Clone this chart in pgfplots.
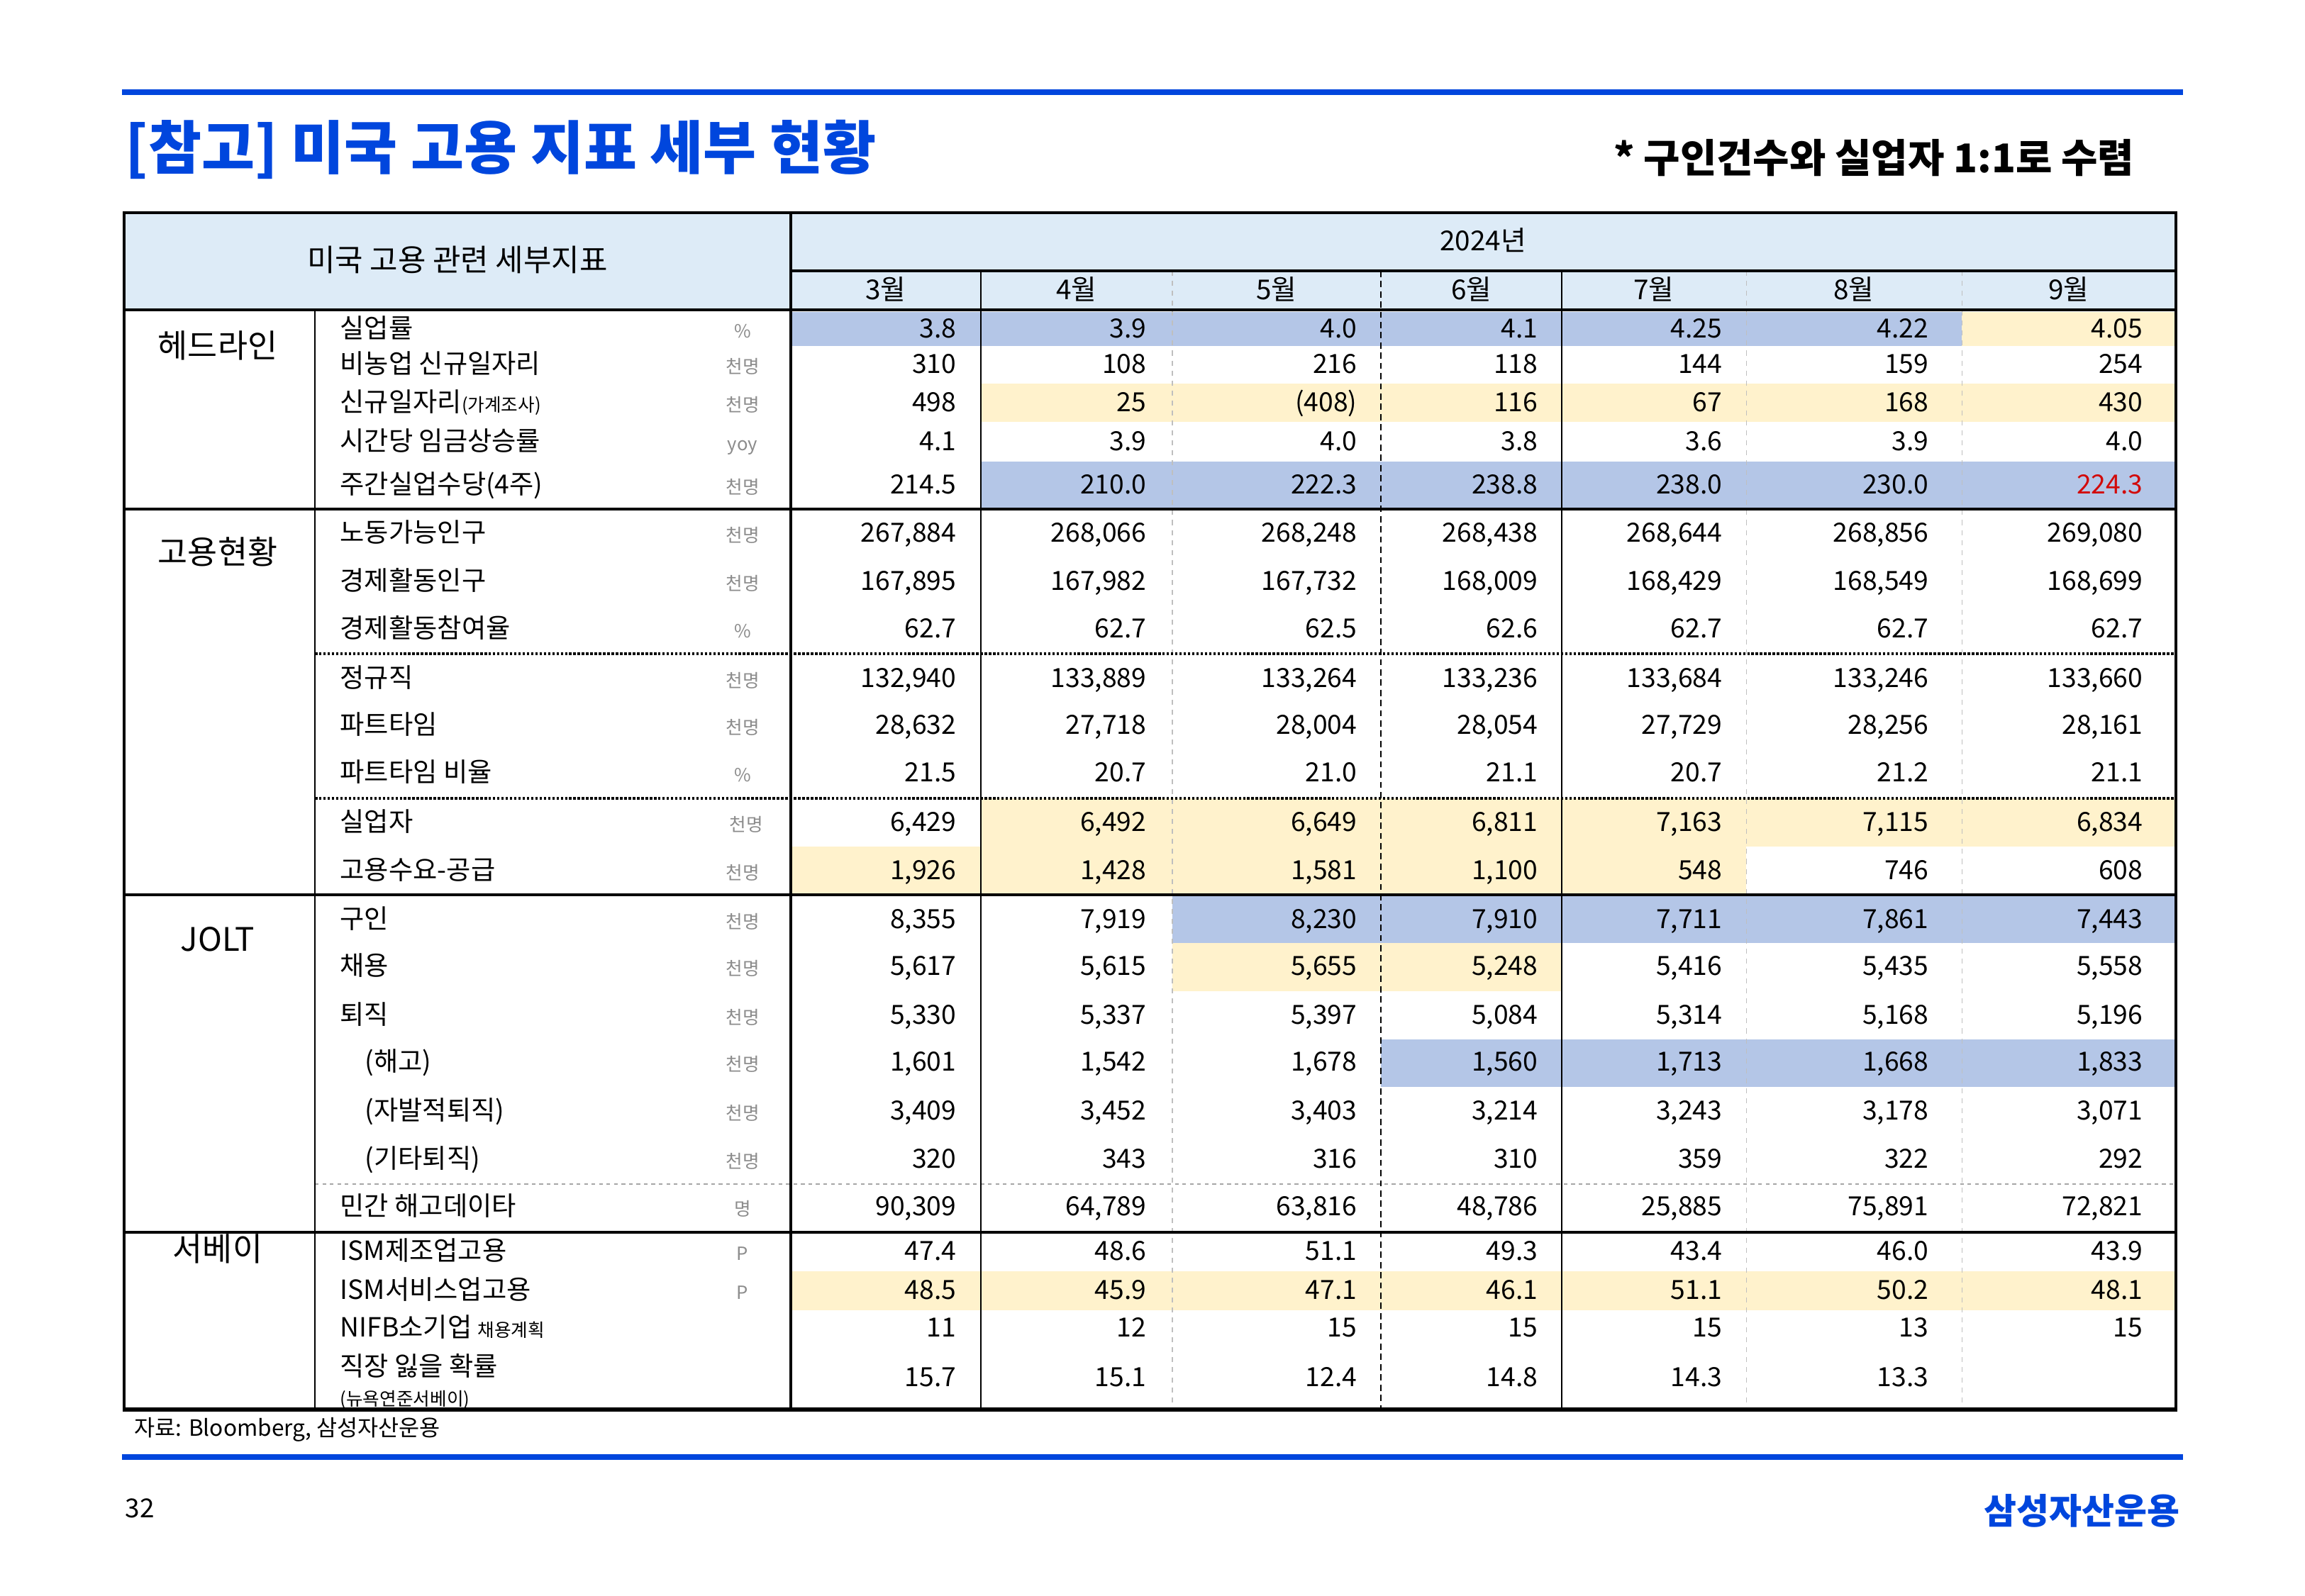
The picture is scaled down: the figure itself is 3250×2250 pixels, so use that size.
\documentclass[border=0pt]{standalone}
\usepackage{fontspec}
\setmainfont{Noto Sans CJK KR}
\usepackage{xcolor}
\definecolor{brand}{RGB}{0,70,221}
\definecolor{hdr}{RGB}{221,235,247}
\definecolor{hiblue}{RGB}{180,198,231}
\definecolor{hiyel}{RGB}{255,242,204}
\definecolor{unitgray}{RGB}{140,140,140}
\definecolor{hot}{RGB}{210,10,10}
\usepackage{pgfplots}
\usepackage{pgfplotstable}
\pgfplotsset{compat=1.18}

\newcommand{\fbody}{\fontsize{10.6pt}{12pt}\selectfont}
\newcommand{\fcat}{\fontsize{13pt}{14pt}\selectfont}
\newcommand{\fsmall}{\fontsize{7.3pt}{8pt}\selectfont}

% one row per table line: y centre (px from top), then the months 3..9
\pgfplotstableread{
y m3 m4 m5 m6 m7 m8 m9
464 3.8 3.9 4.0 4.1 4.25 4.22 4.05
514 310 108 216 118 144 159 254
568 498 25 (408) 116 67 168 430
623 4.1 3.9 4.0 3.8 3.6 3.9 4.0
684 214.5 210.0 222.3 238.8 238.0 230.0 {}
752 267,884 268,066 268,248 268,438 268,644 268,856 269,080
820 167,895 167,982 167,732 168,009 168,429 168,549 168,699
887 62.7 62.7 62.5 62.6 62.7 62.7 62.7
957 132,940 133,889 133,264 133,236 133,684 133,246 133,660
1023 28,632 27,718 28,004 28,054 27,729 28,256 28,161
1090 21.5 20.7 21.0 21.1 20.7 21.2 21.1
1160 6,429 6,492 6,649 6,811 7,163 7,115 6,834
1228 1,926 1,428 1,581 1,100 548 746 608
1297 8,355 7,919 8,230 7,910 7,711 7,861 7,443
1363 5,617 5,615 5,655 5,248 5,416 5,435 5,558
1432 5,330 5,337 5,397 5,084 5,314 5,168 5,196
1498 1,601 1,542 1,678 1,560 1,713 1,668 1,833
1567 3,409 3,452 3,403 3,214 3,243 3,178 3,071
1635 320 343 316 310 359 322 292
1702 90,309 64,789 63,816 48,786 25,885 75,891 72,821
1765 47.4 48.6 51.1 49.3 43.4 46.0 43.9
1820 48.5 45.9 47.1 46.1 51.1 50.2 48.1
1873 11 12 15 15 15 13 15
1943 15.7 15.1 12.4 14.8 14.3 13.3 {}
}\datatable

\pgfplotsset{
  cellvals/.style={
    draw=none, mark=none, nodes near coords,
    point meta=explicit symbolic,
    every node near coord/.append style={anchor=east, inner sep=0pt,
      text height=0.73em, text depth=0pt, font=\fbody, text=black},
  },
}
\tikzset{
  lab/.style={inner sep=0pt, text height=0.73em, text depth=0pt, font=\fbody, anchor=west},
  unit/.style={inner sep=0pt, text height=0.73em, text depth=0pt, font=\fsmall, text=unitgray},
  mon/.style={inner sep=0pt, text height=0.73em, text depth=0pt, font=\fontsize{11pt}{12pt}\selectfont},
  cat/.style={inner sep=0pt, text height=0.73em, text depth=0pt, font=\fcat},
}

\begin{document}
\begin{tikzpicture}
\begin{axis}[
  width=32.5cm, height=22.5cm, scale only axis,
  xmin=0, xmax=3250, ymin=0, ymax=2250, y dir=reverse,
  hide axis, clip=false,
]
\fill[white] (0,0) rectangle (3250,2250);

%% page frame
\fill[brand] (172,126) rectangle (3078,134);
\fill[brand] (172,2051) rectangle (3078,2059);
\node[lab, font=\fontsize{23.2pt}{26pt}\selectfont\bfseries, text=brand] at (176,226)
  {[참고] 미국 고용 지표 세부 현황};
\node[lab, anchor=east, font=\fontsize{15.9pt}{18pt}\selectfont\bfseries] at (3010,231)
  {* 구인건수와 실업자 1:1로 수렴};
\node[lab, font=\fontsize{9pt}{10pt}\selectfont] at (189,2013) {자료: Bloomberg, 삼성자산운용};
\node[lab, font=\fontsize{10.5pt}{12pt}\selectfont] at (176,2128) {32};
\node[lab, anchor=east, font=\fontsize{14.2pt}{16pt}\selectfont\bfseries, text=brand] at (3074,2137)
  {삼성자산운용};

%% header and highlighted cells
\fill[hdr] (175,300) rectangle (3068,437);
\fill[hiblue] (1115,440) rectangle (2766,488);
\fill[hiyel] (2766,440) rectangle (3068,488);
\fill[hiyel] (1383,541) rectangle (3068,595);
\fill[hiblue] (1383,651) rectangle (3068,718);
\fill[hiyel] (1383,1126) rectangle (3068,1194);
\fill[hiyel] (1115,1194) rectangle (2462,1262);
\fill[hiblue] (1653,1262) rectangle (3068,1330);
\fill[hiyel] (1653,1330) rectangle (2202,1398);
\fill[hiblue] (1947,1466) rectangle (3068,1533);
\fill[hiyel] (1115,1793) rectangle (3068,1848);

%% rules
\draw[black!25, line width=0.3pt, dash pattern=on 2pt off 2pt]
  (1653,382) -- (1653,1988) (2462,382) -- (2462,1988) (2766,382) -- (2766,1988);
\draw[black!35, line width=0.4pt, dash pattern=on 1.5pt off 1.5pt] (444,1670) -- (3068,1670);
\draw[line width=0.9pt, dash pattern=on 1pt off 0.7pt] (444,922) -- (3068,922);
\draw[line width=0.9pt, dash pattern=on 1pt off 0.7pt] (444,1126) -- (3068,1126);
\draw[line width=0.7pt, dash pattern=on 2.5pt off 1.6pt] (1947,382) -- (1947,1988);
\draw[line width=0.5pt] (444,437) -- (444,1988);
\draw[line width=0.5pt] (1383,382) -- (1383,1988) (2202,382) -- (2202,1988);
\draw[line width=1.1pt] (1115,382) -- (3068,382);
\draw[line width=1pt] (175,718) -- (3068,718) (175,1262) -- (3068,1262) (175,1738) -- (3068,1738);
\draw[line width=1.3pt] (175,437) -- (3068,437);
\draw[line width=1.3pt] (1115,300) -- (1115,1988);
\draw[line width=1.3pt] (175,1988) -- (175,300) -- (3068,300) -- (3068,1988);
\draw[line width=1.7pt] (173,1988) -- (3070,1988);

%% header text
\node[lab, anchor=center, font=\fontsize{12.2pt}{14pt}\selectfont] at (645,370) {미국 고용 관련 세부지표};
\node[mon] at (2091,341) {2024년};
\node[mon] at (1249,410) {3월};
\node[mon] at (1518,410) {4월};
\node[mon] at (1800,410) {5월};
\node[mon] at (2075,410) {6월};
\node[mon] at (2332,410) {7월};
\node[mon] at (2614,410) {8월};
\node[mon] at (2917,410) {9월};

%% group labels
\node[cat] at (307,492) {헤드라인};
\node[cat] at (307,783) {고용현황};
\node[cat] at (307,1329) {JOLT};
\node[cat] at (307,1766) {서베이};

%% row labels and units
\node[lab] at (479,464) {실업률};
\node[lab] at (479,514) {비농업 신규일자리};
\node[lab] at (479,568) {신규일자리{\fsmall(가계조사)}};
\node[lab] at (479,623) {시간당 임금상승률};
\node[lab] at (479,684) {주간실업수당(4주)};
\node[lab] at (479,752) {노동가능인구};
\node[lab] at (479,820) {경제활동인구};
\node[lab] at (479,887) {경제활동참여율};
\node[lab] at (479,957) {정규직};
\node[lab] at (479,1023) {파트타임};
\node[lab] at (479,1090) {파트타임 비율};
\node[lab] at (479,1160) {실업자};
\node[lab] at (479,1228) {고용수요-공급};
\node[lab] at (479,1297) {구인};
\node[lab] at (479,1363) {채용};
\node[lab] at (479,1432) {퇴직};
\node[lab] at (514,1498) {(해고)};
\node[lab] at (514,1567) {(자발적퇴직)};
\node[lab] at (514,1635) {(기타퇴직)};
\node[lab] at (479,1702) {민간 해고데이타};
\node[lab] at (479,1765) {ISM제조업고용};
\node[lab] at (479,1820) {ISM서비스업고용};
\node[lab] at (479,1873) {NIFB소기업 {\fsmall 채용계획}};
\node[lab] at (479,1928) {직장 잃을 확률};
\node[lab, font=\fsmall] at (479,1970) {(뉴욕연준서베이)};

\node[unit] at (1047,464) {\%};
\node[unit] at (1047,514) {천명};
\node[unit] at (1047,568) {천명};
\node[unit] at (1047,623) {yoy};
\node[unit] at (1047,684) {천명};
\node[unit] at (1047,752) {천명};
\node[unit] at (1047,820) {천명};
\node[unit] at (1047,887) {\%};
\node[unit] at (1047,957) {천명};
\node[unit] at (1047,1023) {천명};
\node[unit] at (1047,1090) {\%};
\node[unit] at (1052,1160) {천명};
\node[unit] at (1047,1228) {천명};
\node[unit] at (1047,1297) {천명};
\node[unit] at (1047,1363) {천명};
\node[unit] at (1047,1432) {천명};
\node[unit] at (1047,1498) {천명};
\node[unit] at (1047,1567) {천명};
\node[unit] at (1047,1635) {천명};
\node[unit] at (1047,1702) {명};
\node[unit] at (1047,1765) {P};
\node[unit] at (1047,1820) {P};

%% values
\addplot[cellvals] table[x expr=1349, y=y, meta=m3] {\datatable};
\addplot[cellvals] table[x expr=1617, y=y, meta=m4] {\datatable};
\addplot[cellvals] table[x expr=1914, y=y, meta=m5] {\datatable};
\addplot[cellvals] table[x expr=2169, y=y, meta=m6] {\datatable};
\addplot[cellvals] table[x expr=2429, y=y, meta=m7] {\datatable};
\addplot[cellvals] table[x expr=2720, y=y, meta=m8] {\datatable};
\addplot[cellvals] table[x expr=3022, y=y, meta=m9] {\datatable};
\addplot[cellvals, every node near coord/.append style={text=hot}]
  coordinates {(3022,684) [224.3]};
\end{axis}
\end{tikzpicture}
\end{document}
